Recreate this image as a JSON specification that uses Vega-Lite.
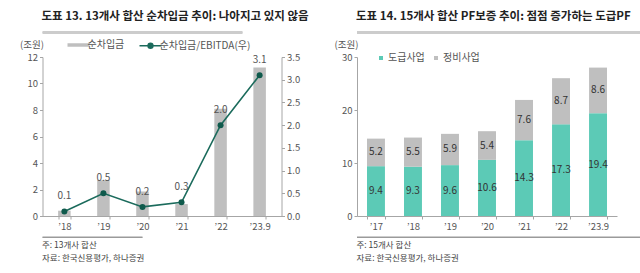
{
  "$schema": "https://vega.github.io/schema/vega-lite/v6.json",
  "padding": {"left": 19.5, "top": 10, "right": 0, "bottom": 0},
  "background": "white",
  "config": {
    "font": "Noto Sans CJK KR",
    "view": {"stroke": null},
    "axis": {"labelFontSize": 9.5, "labelColor": "#555555", "domainColor": "#a6a6a6", "tickColor": "#a6a6a6", "tickSize": 3, "grid": false, "labelFont": "Noto Sans CJK KR", "titleFont": "Noto Sans CJK KR"},
    "legend": {"labelFont": "Noto Sans CJK KR", "labelFontSize": 10, "labelColor": "#555555"},
    "title": {"font": "Noto Sans CJK KR"}
  },
  "spacing": 24.5,
  "resolve": {"scale": {"color": "independent"}, "legend": {"color": "independent"}},
  "hconcat": [
    {
      "vconcat": [
        {
          "width": 200, "height": 2,
          "view": {"fill": "#cccccc", "stroke": null},
          "title": {"text": "도표 13. 13개사 합산 순차입금 추이: 나아지고 있지 않음", "anchor": "start", "fontSize": 11.5, "fontWeight": "bold", "color": "#222222", "offset": 9},
          "data": {"values": [{"v": 1}]},
          "mark": {"type": "rule", "color": "#cccccc", "strokeWidth": 2},
          "encoding": {"y": {"field": "v", "type": "quantitative", "scale": {"domain": [0, 1]}, "axis": null}}
        },
        {
          "width": 239, "height": 159,
          "data": {"values": [
            {"year": "’18", "debt": 0.4, "ratio": 0.1},
            {"year": "’19", "debt": 2.7, "ratio": 0.5},
            {"year": "’20", "debt": 1.85, "ratio": 0.2},
            {"year": "’21", "debt": 0.9, "ratio": 0.3},
            {"year": "’22", "debt": 8.1, "ratio": 2.0},
            {"year": "’23.9", "debt": 11.2, "ratio": 3.1}
          ]},
          "encoding": {"x": {"field": "year", "type": "ordinal", "sort": null, "title": null, "scale": {"paddingInner": 0.68, "paddingOuter": 0.4}, "axis": {"labelAngle": 0, "tickBand": "extent", "labelPadding": 2}}},
          "layer": [
            {
              "mark": {"type": "bar", "color": "#bfbfbf"},
              "encoding": {
                "y": {"field": "debt", "type": "quantitative", "scale": {"domain": [0, 12]}, "axis": {"values": [0, 2, 4, 6, 8, 10, 12], "title": "(조원)", "titleAngle": 0, "titleAlign": "center", "titleBaseline": "alphabetic", "titleX": -11, "titleY": -10, "titleFontSize": 9.5, "titleFontWeight": "normal", "titleColor": "#555555"}},
                "color": {"datum": "순차입금", "scale": {"domain": ["순차입금", "순차입금/EBITDA(우)"], "range": ["#bfbfbf", "#1b6b5c"]},
                  "legend": {"orient": "none", "legendX": 31, "legendY": -17, "direction": "horizontal", "title": null, "symbolType": "stroke", "symbolSize": 484, "symbolStrokeWidth": 3.5, "labelOffset": 4, "columnPadding": 12,
                    "encode": {"symbols": {"update": {
                      "shape": {"signal": "datum.value === '순차입금' ? 'stroke' : 'M-1,0H1M-0.22,0A0.22,0.22,0,1,0,0.22,0A0.22,0.22,0,1,0,-0.22,0Z'"},
                      "strokeWidth": {"signal": "datum.value === '순차입금' ? 3.5 : 1.5"},
                      "fill": {"signal": "datum.value === '순차입금' ? 'transparent' : '#1b6b5c'"},
                      "stroke": {"signal": "datum.value === '순차입금' ? '#bfbfbf' : '#1b6b5c'"}
                    }}}}}
              }
            },
            {
              "mark": {"type": "line", "color": "#1b6b5c", "strokeWidth": 1.6, "point": {"filled": true, "size": 36, "fill": "#0f5a4c"}},
              "encoding": {"y": {"field": "ratio", "type": "quantitative", "scale": {"domain": [0, 3.5]}, "axis": {"orient": "right", "title": null, "values": [0, 0.5, 1, 1.5, 2, 2.5, 3, 3.5], "format": ".1f"}}}
            },
            {
              "mark": {"type": "text", "dy": -15, "fontSize": 10, "color": "#555555"},
              "encoding": {"y": {"field": "ratio", "type": "quantitative", "scale": {"domain": [0, 3.5]}, "axis": null}, "text": {"field": "ratio", "type": "quantitative", "format": ".1f"}}
            }
          ],
          "resolve": {"scale": {"y": "independent"}}
        },
        {
          "width": 100, "height": 1,
          "view": {"fill": "#9a9a9a", "stroke": null},
          "title": {"text": ["주: 13개사 합산", "자료: 한국신용평가, 하나증권"], "orient": "bottom", "anchor": "start", "fontSize": 8.5, "fontWeight": "normal", "color": "#444444", "offset": 3, "lineHeight": 13},
          "data": {"values": [{"v": 1}]},
          "mark": {"type": "rule", "color": "#9a9a9a", "strokeWidth": 1},
          "encoding": {"y": {"field": "v", "type": "quantitative", "scale": {"domain": [0, 1]}, "axis": null}}
        }
      ],
      "spacing": 5,
      "resolve": {"scale": {"color": "independent", "x": "independent"}, "legend": {"color": "independent"}}
    },
    {
      "vconcat": [
        {
          "width": 293.5, "height": 2,
          "view": {"fill": "#cccccc", "stroke": null},
          "title": {"text": "도표 14. 15개사 합산 PF보증 추이: 점점 증가하는 도급PF", "anchor": "start", "fontSize": 11.5, "fontWeight": "bold", "color": "#222222", "offset": 9},
          "data": {"values": [{"v": 1}]},
          "mark": {"type": "rule", "color": "#cccccc", "strokeWidth": 2},
          "encoding": {"y": {"field": "v", "type": "quantitative", "scale": {"domain": [0, 1]}, "axis": null}}
        },
        {
          "width": 260, "height": 159,
          "data": {"values": [
            {"year": "’17", "type": "도급사업", "value": 9.4},
            {"year": "’17", "type": "정비사업", "value": 5.2},
            {"year": "’18", "type": "도급사업", "value": 9.3},
            {"year": "’18", "type": "정비사업", "value": 5.5},
            {"year": "’19", "type": "도급사업", "value": 9.6},
            {"year": "’19", "type": "정비사업", "value": 5.9},
            {"year": "’20", "type": "도급사업", "value": 10.6},
            {"year": "’20", "type": "정비사업", "value": 5.4},
            {"year": "’21", "type": "도급사업", "value": 14.3},
            {"year": "’21", "type": "정비사업", "value": 7.6},
            {"year": "’22", "type": "도급사업", "value": 17.3},
            {"year": "’22", "type": "정비사업", "value": 8.7},
            {"year": "’23.9", "type": "도급사업", "value": 19.4},
            {"year": "’23.9", "type": "정비사업", "value": 8.6}
          ]},
          "encoding": {"x": {"field": "year", "type": "ordinal", "sort": null, "title": null, "scale": {"paddingInner": 0.515, "paddingOuter": 0.27}, "axis": {"labelAngle": 0, "tickBand": "extent", "labelPadding": 2}}},
          "layer": [
            {
              "mark": {"type": "bar"},
              "encoding": {
                "y": {"field": "value", "type": "quantitative", "stack": "zero", "scale": {"domain": [0, 30]}, "axis": {"values": [0, 5, 10, 15, 20, 25, 30], "title": "(조원)", "titleAngle": 0, "titleAlign": "center", "titleBaseline": "alphabetic", "titleX": -11, "titleY": -10, "titleFontSize": 9.5, "titleFontWeight": "normal", "titleColor": "#555555"}},
                "color": {"field": "type", "type": "nominal", "scale": {"domain": ["도급사업", "정비사업"], "range": ["#5ccab6", "#bfbfbf"]},
                  "legend": {"orient": "none", "legendX": 19, "legendY": -4, "direction": "horizontal", "title": null, "symbolType": "square", "symbolSize": 16, "labelOffset": 2, "columnPadding": 6}},
                "order": {"field": "type", "type": "ordinal", "sort": "ascending"}
              }
            },
            {
              "transform": [
                {"stack": "value", "groupby": ["year"], "sort": [{"field": "type", "order": "ascending"}], "as": ["v0", "v1"]},
                {"fold": ["v0", "v1"], "as": ["edge", "pos"]}
              ],
              "mark": {"type": "text", "fontSize": 10, "color": "#333333"},
              "encoding": {
                "y": {"aggregate": "mean", "field": "pos", "type": "quantitative", "title": "(조원)"},
                "text": {"field": "value", "type": "quantitative", "format": ".1f"},
                "detail": {"field": "type"}
              }
            }
          ]
        },
        {
          "width": 293.5, "height": 1,
          "view": {"fill": "#9a9a9a", "stroke": null},
          "title": {"text": ["주: 15개사 합산", "자료: 한국신용평가, 하나증권"], "orient": "bottom", "anchor": "start", "fontSize": 8.5, "fontWeight": "normal", "color": "#444444", "offset": 3, "lineHeight": 13},
          "data": {"values": [{"v": 1}]},
          "mark": {"type": "rule", "color": "#9a9a9a", "strokeWidth": 1},
          "encoding": {"y": {"field": "v", "type": "quantitative", "scale": {"domain": [0, 1]}, "axis": null}}
        }
      ],
      "spacing": 5,
      "resolve": {"scale": {"color": "independent", "x": "independent"}, "legend": {"color": "independent"}}
    }
  ]
}
